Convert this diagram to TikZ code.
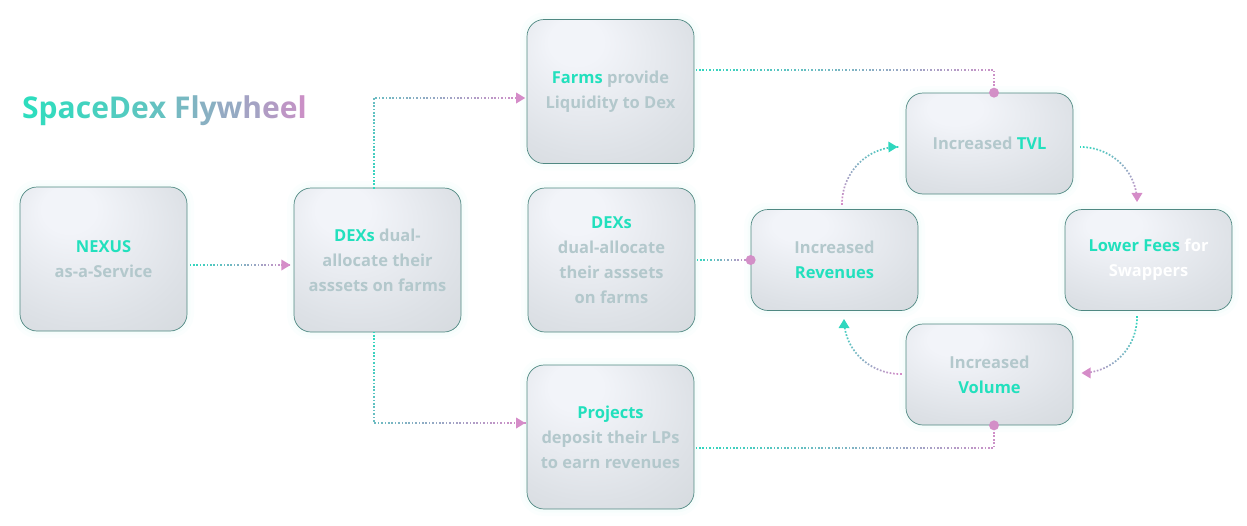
\documentclass[tikz,border=0pt]{standalone}
\usepackage{fontspec}
\setmainfont{Open Sans}
\usetikzlibrary{decorations.markings}
\definecolor{bxA}{HTML}{F2F4F9}
\definecolor{bxB}{HTML}{DDE1E6}
\definecolor{bxC}{HTML}{C9CFD2}
\definecolor{bxBorder}{HTML}{4F8882}
\definecolor{glw}{HTML}{B8F3E6}
\definecolor{hlc}{HTML}{22E0BD}
\definecolor{grayt}{HTML}{B3C8CC}
\definecolor{lnT}{HTML}{2FD7BE}
\definecolor{lnP}{HTML}{D58CC8}
\definecolor{dotP}{HTML}{D38FC7}
\definecolor{tA}{HTML}{2EDDBE}
\definecolor{tB}{HTML}{D48BC6}
\pgfdeclareradialshading{boxsh}{\pgfpoint{-12bp}{20bp}}{color(0bp)=(bxA); color(8bp)=(bxA); color(32bp)=(bxB); color(60bp)=(bxC)}
\newcommand\tgl[2]{\textcolor{tB!#1!tA}{#2}}
\newcommand\hlt[1]{\textcolor{hlc}{#1}}
\tikzset{
  bigbox/.style={
    preaction={draw=glw, line width=14pt, draw opacity=0.05},
    preaction={draw=glw, line width=7pt, draw opacity=0.08},
    draw=bxBorder, line width=0.7pt, rounded corners=17pt,
    shade, shading=boxsh, minimum width=167pt, minimum height=144pt,
    inner sep=0pt, align=center, text=grayt,
    font=\fontsize{16.5}{25}\selectfont\bfseries},
  smallbox/.style={bigbox, minimum height=101pt},
  titlenode/.style={anchor=base west, inner sep=0pt,
    font=\fontsize{30}{36}\selectfont\bfseries},
  gline/.style 2 args={postaction={decorate, decoration={markings,
    mark=between positions 0 and 1 step 3.4pt with {%
      \pgfmathtruncatemacro\gp{(\pgfkeysvalueof{/pgf/decoration/mark info/distance from start}/\pgfdecoratedpathlength)*100}%
      \fill[#2!\gp!#1] (-0.85pt,-0.85pt) rectangle (0.85pt,0.85pt);}}}},
  garrow/.style={postaction={decorate, decoration={markings,
    mark=at position 0.998 with {\fill[#1] (0pt,0pt) -- (-9pt,5.5pt) -- (-9pt,-5.5pt) -- cycle;}}}},
  enddot/.style={fill=dotP}
}
\begin{document}
\begin{tikzpicture}[x=1pt,y=-1pt]
\useasboundingbox (0,0) rectangle (1247,525);
\node[titlenode] (ttl) at (22,118) {\tgl{0}{S}\tgl{4}{p}\tgl{8}{a}\tgl{12}{c}\tgl{16}{e}\tgl{21}{D}\tgl{27}{e}\tgl{33}{x} \tgl{44}{F}\tgl{50}{l}\tgl{55}{y}\tgl{62}{w}\tgl{71}{h}\tgl{79}{e}\tgl{87}{e}\tgl{94}{l}};

\node[bigbox] (nexus) at (103.5,259) {\hlt{NEXUS}\\as-a-Service};
\node[bigbox] (dex) at (377.5,260) {\hlt{DEXs} dual-\\allocate their\\asssets on farms};
\node[bigbox] (farms) at (610.5,91.5) {\hlt{Farms} provide\\Liquidity to Dex};
\node[bigbox] (dexm) at (611.5,260) {\hlt{DEXs}\\dual-allocate\\their asssets\\on farms};
\node[bigbox] (proj) at (610.5,437) {\hlt{Projects}\\deposit their LPs\\to earn revenues};
\node[smallbox] (tvl) at (989.5,143.5) {Increased \hlt{TVL}};
\node[smallbox] (rev) at (834.5,260) {Increased\\\hlt{Revenues}};
\node[smallbox] (lf) at (1148.5,260) {\hlt{Lower Fees} \textcolor{white}{for}\\\textcolor{white}{Swappers}};
\node[smallbox] (vol) at (989.5,374.5) {Increased\\\hlt{Volume}};

% straight connectors
\path[gline={lnT}{lnP}, garrow=lnP] ([xshift=3pt,yshift=-6pt]nexus.east) -- ([xshift=-3pt,yshift=-5pt]dex.west);
\path[gline={lnT}{lnP}, garrow=lnP] ([xshift=-3.5pt]dex.north) |- ([xshift=-1pt,yshift=-6.5pt]farms.west);
\path[gline={lnT}{lnP}, garrow=lnP] ([xshift=-3.5pt]dex.south) |- ([xshift=-1pt,yshift=14pt]proj.west);
\path[gline={lnT}{lnP}] ([xshift=2pt,yshift=21.5pt]farms.east) -| ([xshift=4.5pt]tvl.north);
\fill[enddot] ([xshift=4.5pt]tvl.north) circle[radius=5pt];
\path[gline={lnT}{lnP}] ([xshift=2pt]dexm.east) -- (rev.west);
\fill[enddot] (rev.west) circle[radius=5pt];
\path[gline={lnT}{lnP}] ([xshift=2pt,yshift=-11pt]proj.east) -| ([xshift=4.5pt]vol.south);
\fill[enddot] ([xshift=4.5pt]vol.south) circle[radius=5pt];

% flywheel curves
\path[gline={lnP}{lnT}, garrow=lnT] ([xshift=7.5pt,yshift=5pt]rev.north) .. controls +(0,-32) and +(-30,0) .. ([xshift=-8pt,yshift=-3.5pt]tvl.west);
\path[gline={lnT}{lnP}, garrow=lnP] ([xshift=7pt,yshift=-3.5pt]tvl.east) .. controls +(30,0) and +(0,-32) .. ([xshift=-11.5pt,yshift=7pt]lf.north);
\path[gline={lnT}{lnP}, garrow=lnP] ([xshift=-11.5pt,yshift=-6pt]lf.south) .. controls +(0,32) and +(30,0) .. ([xshift=8pt,yshift=1.5pt]vol.east);
\path[gline={lnP}{lnT}, garrow=lnT] ([xshift=-5pt,yshift=0.5pt]vol.west) .. controls +(-30,0) and +(0,32) .. ([xshift=9.5pt,yshift=-8pt]rev.south);
\end{tikzpicture}
\end{document}
